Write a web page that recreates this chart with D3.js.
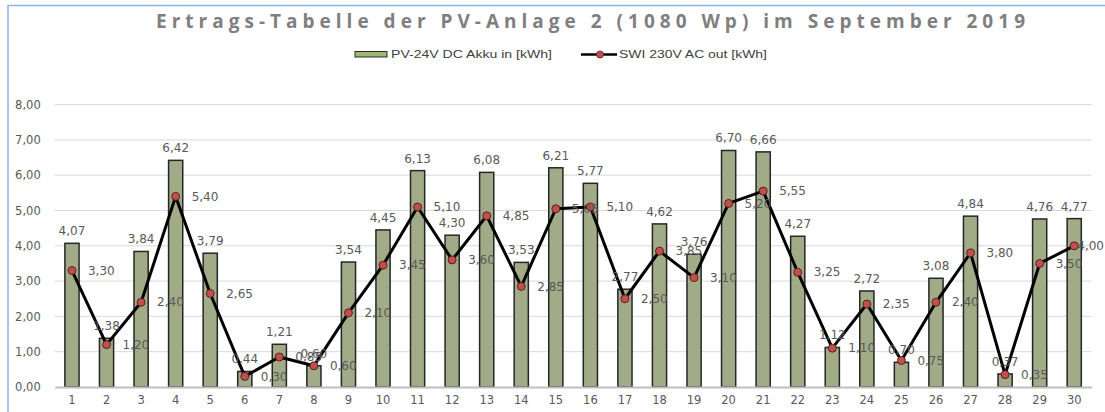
<!DOCTYPE html>
<html>
<head>
<meta charset="utf-8">
<script src="https://cdn.jsdelivr.net/npm/d3@7"></script>
<style>
  html, body { margin: 0; padding: 0; background: #fff; }
  svg { display: block; }
</style>
</head>
<body>
<div id="chart"></div>
<script>
// Tage im September 2019
const days = d3.range(1, 31).map(String);

// PV-24V DC Akku in [kWh]
const akkuIn = [4.07, 1.38, 3.84, 6.42, 3.79, 0.44, 1.21, 0.60, 3.54, 4.45,
                6.13, 4.30, 6.08, 3.53, 6.21, 5.77, 2.77, 4.62, 3.76, 6.70,
                6.66, 4.27, 1.12, 2.72, 0.70, 3.08, 4.84, 0.37, 4.76, 4.77];

// SWI 230V AC out [kWh]
const acOut = [3.30, 1.20, 2.40, 5.40, 2.65, 0.30, 0.85, 0.60, 2.10, 3.45,
               5.10, 3.60, 4.85, 2.85, 5.05, 5.10, 2.50, 3.85, 3.10, 5.20,
               5.55, 3.25, 1.10, 2.35, 0.75, 2.40, 3.80, 0.35, 3.50, 4.00];

const yTicks = [0, 1, 2, 3, 4, 5, 6, 7, 8];

const seriesNames = ['PV-24V DC Akku in [kWh]', 'SWI 230V AC out [kWh]'];
const title = 'Ertrags-Tabelle der PV-Anlage 2 (1080 Wp) im September 2019';

const width = 1105, height = 412;
const margin = { top: 104.6, right: 13.5, bottom: 25, left: 54.7 };

const de = d3.formatLocale({ decimal: ',', thousands: '.', grouping: [3], currency: ['', ' €'] });
const fmt = de.format('.2f');

const svg = d3.select('#chart').append('svg')
  .attr('width', width)
  .attr('height', height);

// Rahmen (nur links/oben sichtbar)
svg.append('rect')
  .attr('x', 8).attr('y', 5.5)
  .attr('width', 1120).attr('height', 430)
  .attr('fill', 'none')
  .attr('stroke', '#8eb4e3')
  .attr('stroke-width', 1.5);

const x = d3.scaleBand()
  .domain(days)
  .range([margin.left, width - margin.right])
  .paddingInner(0.59)
  .paddingOuter(0.295);

const y = d3.scaleLinear()
  .domain([0, 8])
  .range([height - margin.bottom, margin.top]);

const cx = d => x(d) + x.bandwidth() / 2;

// Titel
svg.append('text')
  .attr('x', 156).attr('y', 27.5)
  .attr('textLength', 869)
  .attr('lengthAdjust', 'spacing')
  .attr('font-family', 'Open Sans, sans-serif')
  .attr('font-weight', 'bold')
  .attr('font-size', 19)
  .attr('fill', '#7f7f7f')
  .text(title);

// Legende
const legend = svg.append('g').attr('font-family', 'Liberation Sans Narrow, Liberation Sans, sans-serif')
  .attr('font-size', 11).attr('fill', '#404040');

legend.append('rect')
  .attr('x', 355).attr('y', 51.5).attr('width', 32).attr('height', 5.5)
  .attr('fill', '#9fb872').attr('stroke', '#2b2b2b').attr('stroke-width', 1);
legend.append('text')
  .attr('x', 391).attr('y', 58)
  .attr('textLength', 161).attr('lengthAdjust', 'spacingAndGlyphs')
  .text(seriesNames[0]);

legend.append('line')
  .attr('x1', 581).attr('x2', 617).attr('y1', 54.5).attr('y2', 54.5)
  .attr('stroke', '#000').attr('stroke-width', 2.5);
legend.append('circle')
  .attr('cx', 600).attr('cy', 54.5).attr('r', 3.5)
  .attr('fill', '#c0504d').attr('stroke', '#6b2b29').attr('stroke-width', 1);
legend.append('text')
  .attr('x', 619).attr('y', 58)
  .attr('textLength', 148).attr('lengthAdjust', 'spacingAndGlyphs')
  .text(seriesNames[1]);

// Gitterlinien
svg.append('g')
  .selectAll('line')
  .data(yTicks.slice(1))
  .join('line')
  .attr('x1', margin.left).attr('x2', width - margin.right)
  .attr('y1', d => y(d)).attr('y2', d => y(d))
  .attr('stroke', '#d9d9d9').attr('stroke-width', 1);

// Y-Achse
const yAxis = svg.append('g')
  .attr('transform', `translate(${margin.left},0)`)
  .call(d3.axisLeft(y).tickValues(yTicks).tickFormat(fmt).tickSize(0).tickPadding(14));
yAxis.select('.domain').remove();
yAxis.selectAll('text')
  .attr('font-family', 'DejaVu Sans, sans-serif')
  .attr('font-size', 11.5)
  .attr('fill', '#595959');

// Balken
svg.append('g')
  .selectAll('rect')
  .data(akkuIn)
  .join('rect')
  .attr('x', (d, i) => x(days[i]))
  .attr('y', d => y(d))
  .attr('width', x.bandwidth())
  .attr('height', d => y(0) - y(d))
  .attr('fill', '#a2ab88')
  .attr('stroke', '#262626')
  .attr('stroke-width', 1.5);

// X-Achse
const xAxis = svg.append('g')
  .attr('transform', `translate(0,${y(0)})`)
  .call(d3.axisBottom(x).tickSize(0).tickPadding(9));
xAxis.select('.domain')
  .attr('stroke', '#bfbfbf').attr('stroke-width', 2);
xAxis.selectAll('text')
  .attr('font-family', 'DejaVu Sans, sans-serif')
  .attr('font-size', 11.5)
  .attr('fill', '#595959');

// Linie
const line = d3.line()
  .x((d, i) => cx(days[i]))
  .y(d => y(d));

svg.append('path')
  .datum(acOut)
  .attr('d', line)
  .attr('fill', 'none')
  .attr('stroke', '#000')
  .attr('stroke-width', 3)
  .attr('stroke-linejoin', 'round');

svg.append('g')
  .selectAll('circle')
  .data(acOut)
  .join('circle')
  .attr('cx', (d, i) => cx(days[i]))
  .attr('cy', d => y(d))
  .attr('r', 4)
  .attr('fill', '#c0504d')
  .attr('stroke', '#5a1f1d')
  .attr('stroke-width', 1);

// Datenbeschriftungen
const labels = svg.append('g')
  .attr('font-family', 'DejaVu Sans, sans-serif')
  .attr('font-size', 12)
  .attr('fill', '#595959');

labels.selectAll('text.bar')
  .data(akkuIn)
  .join('text')
  .attr('class', 'bar')
  .attr('x', (d, i) => cx(days[i]))
  .attr('y', d => y(d) - 8)
  .attr('text-anchor', 'middle')
  .text(d => fmt(d));

labels.selectAll('text.pt')
  .data(acOut)
  .join('text')
  .attr('class', 'pt')
  .attr('x', (d, i) => cx(days[i]) + 16)
  .attr('y', d => y(d))
  .attr('dy', '0.35em')
  .text(d => fmt(d))
  .each(function () {
    // wie in Excel: Beschriftung am rechten Rand nach innen schieben
    const w = this.getComputedTextLength();
    const x0 = +this.getAttribute('x');
    if (x0 + w > width - 1) this.setAttribute('x', width - 1 - w);
  });
</script>
</body>
</html>
